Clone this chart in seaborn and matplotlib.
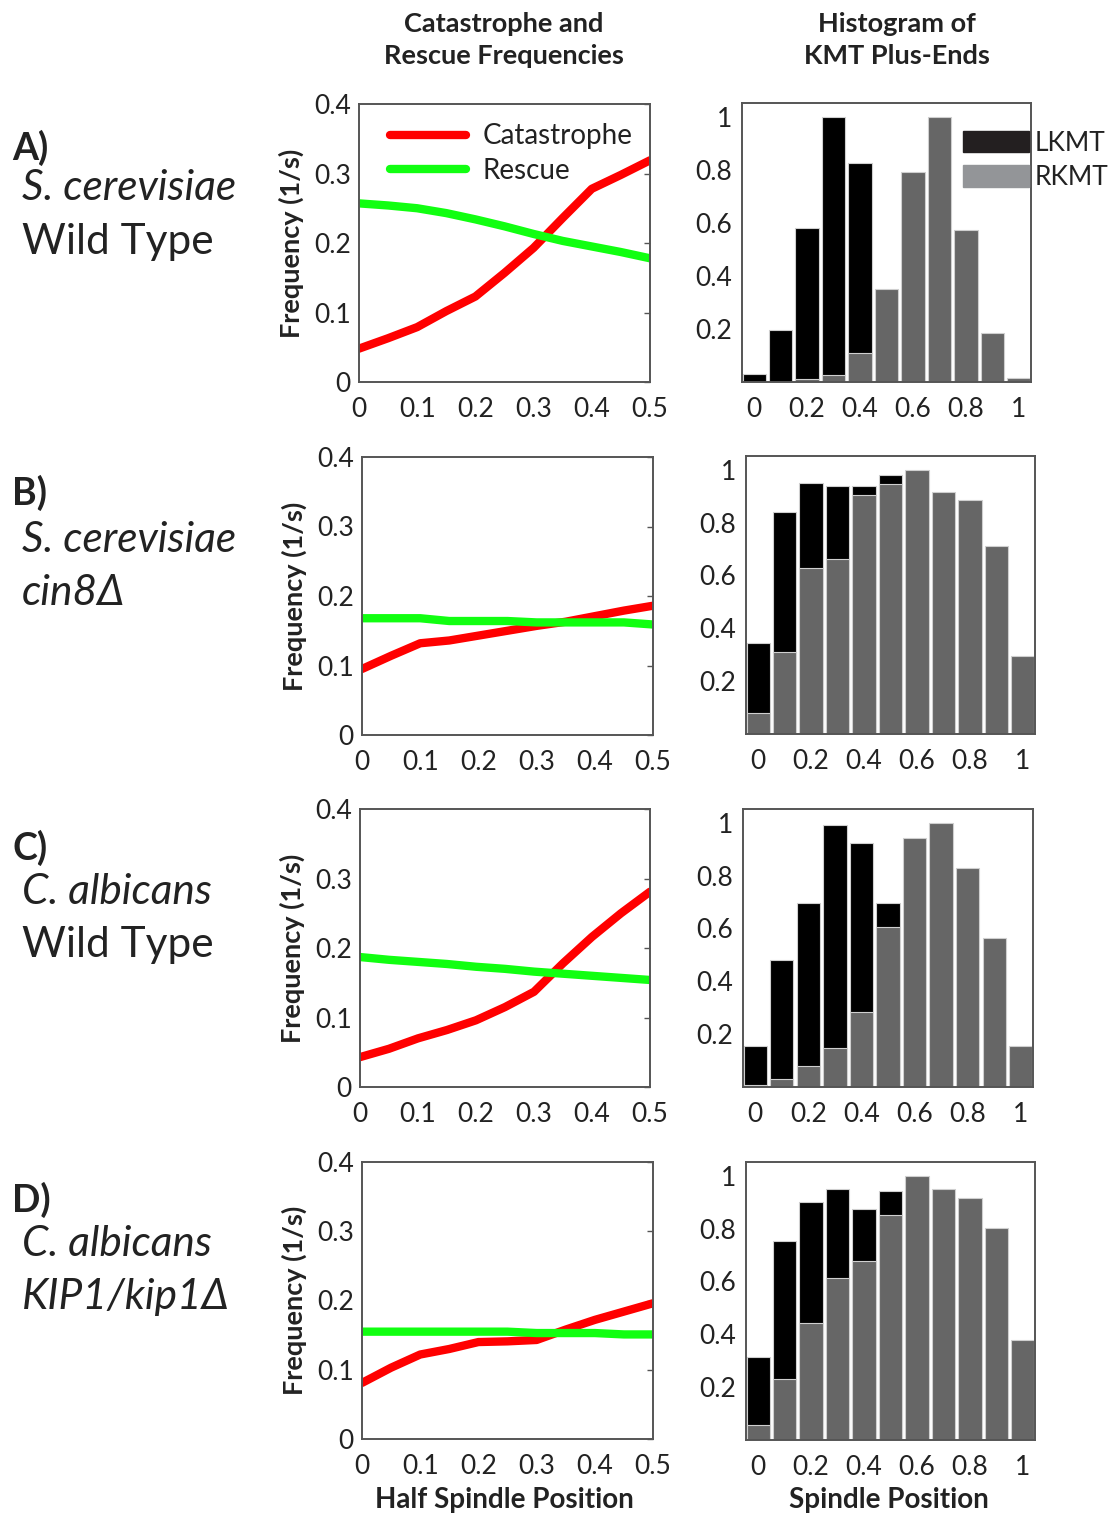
import seaborn as sns
import matplotlib.pyplot as plt
import matplotlib.patches as mpatches
import numpy as np

sns.set_style("white")
plt.rcParams['font.family'] = ['Lato', 'DejaVu Sans']

W, H = 1110, 1515

# half spindle position for the frequency curves
half_pos = [0, 0.05, 0.1, 0.15, 0.2, 0.25, 0.3, 0.35, 0.4, 0.45, 0.5]

cat_a = [0.048, 0.063, 0.079, 0.102, 0.123, 0.157, 0.193, 0.236, 0.278, 0.298, 0.319]
resc_a = [0.257, 0.254, 0.250, 0.243, 0.234, 0.224, 0.213, 0.203, 0.195, 0.187, 0.178]

cat_b = [0.095, 0.114, 0.132, 0.136, 0.143, 0.150, 0.157, 0.163, 0.171, 0.179, 0.186]
resc_b = [0.168, 0.168, 0.168, 0.164, 0.164, 0.164, 0.162, 0.162, 0.162, 0.162, 0.159]

cat_c = [0.043, 0.055, 0.070, 0.082, 0.096, 0.115, 0.137, 0.178, 0.216, 0.250, 0.281]
resc_c = [0.187, 0.183, 0.180, 0.177, 0.173, 0.170, 0.166, 0.163, 0.160, 0.157, 0.154]

cat_d = [0.081, 0.103, 0.122, 0.130, 0.140, 0.141, 0.143, 0.158, 0.172, 0.184, 0.196]
resc_d = [0.155, 0.155, 0.155, 0.155, 0.155, 0.155, 0.153, 0.153, 0.153, 0.151, 0.151]

# histogram of KMT plus-ends (normalised)
bins = [0, 0.1, 0.2, 0.3, 0.4, 0.5, 0.6, 0.7, 0.8, 0.9, 1.0]

lkmt_a = [0.03, 0.195, 0.58, 1.0, 0.824, 0, 0, 0, 0, 0, 0]
rkmt_a = [0.0, 0.0, 0.01, 0.025, 0.11, 0.352, 0.79, 1.0, 0.574, 0.183, 0.015]

lkmt_b = [0.346, 0.839, 0.951, 0.937, 0.938, 0.981, 0, 0, 0, 0, 0]
rkmt_b = [0.079, 0.312, 0.629, 0.663, 0.903, 0.946, 1.0, 0.916, 0.887, 0.712, 0.297]

lkmt_c = [0.154, 0.479, 0.696, 0.991, 0.922, 0.696, 0, 0, 0, 0, 0]
rkmt_c = [0.006, 0.029, 0.078, 0.148, 0.282, 0.606, 0.944, 1.0, 0.828, 0.565, 0.154]

lkmt_d = [0.315, 0.754, 0.901, 0.95, 0.873, 0.943, 0, 0, 0, 0, 0]
rkmt_d = [0.055, 0.231, 0.442, 0.613, 0.676, 0.853, 1.0, 0.95, 0.915, 0.803, 0.379]

panel_letters = ["A)", "B)", "C)", "D)"]
species = ["S. cerevisiae", "S. cerevisiae", "C. albicans", "C. albicans"]
strains = ["Wild Type", "cin8\u0394", "Wild Type", "KIP1/kip1\u0394"]
strain_italic = [False, True, False, True]

cats = [cat_a, cat_b, cat_c, cat_d]
rescs = [resc_a, resc_b, resc_c, resc_d]
lkmts = [lkmt_a, lkmt_b, lkmt_c, lkmt_d]
rkmts = [rkmt_a, rkmt_b, rkmt_c, rkmt_d]

# axes boxes in pixels: left, right, top, bottom
line_boxes = [(359, 650, 104, 382), (362, 653, 457, 735),
              (360, 650, 809, 1087), (362, 653, 1162, 1439)]
hist_boxes = [(742, 1031, 103, 382), (746, 1035, 456, 734),
              (743, 1033, 809, 1087), (746, 1035, 1162, 1440)]
label_rows = [(148, 188, 242), (493, 540, 593), (848, 892, 945), (1200, 1244, 1297)]

TXT = '#222222'
SPINE = '#555555'
FS = 19
FS_B = 19.5


def add_ax(fig, box):
    l, r, t, b = box
    return fig.add_axes([l / W, 1 - b / H, (r - l) / W, (b - t) / H])


def style_spines(ax):
    for s in ax.spines.values():
        s.set_visible(True)
        s.set_color(SPINE)
        s.set_linewidth(1.4)


fig = plt.figure(figsize=(W / 100, H / 100), dpi=100)

for i in range(4):
    # frequency curves
    ax = add_ax(fig, line_boxes[i])
    sns.lineplot(x=half_pos, y=cats[i], color='#ff0000', lw=6, ax=ax,
                 label='Catastrophe')
    sns.lineplot(x=half_pos, y=rescs[i], color='#11ff11', lw=6, ax=ax,
                 label='Rescue')
    ax.set_xlim(0, 0.5)
    ax.set_ylim(0, 0.4)
    ax.set_xticks([0, 0.1, 0.2, 0.3, 0.4, 0.5])
    ax.set_xticklabels(['0', '0.1', '0.2', '0.3', '0.4', '0.5'])
    ax.set_yticks([0, 0.1, 0.2, 0.3, 0.4])
    ax.set_yticklabels(['0', '0.1', '0.2', '0.3', '0.4'])
    ax.tick_params(axis='both', direction='in', length=4, width=1,
                   color=SPINE, labelsize=FS, labelcolor=TXT,
                   right=True, top=False, left=False, bottom=False)
    ax.tick_params(axis='x', pad=11)
    ax.tick_params(axis='y', pad=6)
    ax.set_ylabel('Frequency (1/s)', fontsize=FS_B, fontweight='bold',
                  color=TXT, labelpad=7)
    style_spines(ax)
    if i == 0:
        ax.legend(loc='upper left', bbox_to_anchor=(0.105, 0.93),
                  frameon=False, fontsize=20, handlelength=2.75,
                  handletextpad=0.6, labelspacing=0.3, borderaxespad=0,
                  borderpad=0, labelcolor=TXT)
    else:
        ax.get_legend().remove()

    # histogram
    hx = add_ax(fig, hist_boxes[i])
    sns.barplot(x=bins, y=lkmts[i], native_scale=True, color='#000000',
                saturation=1, width=0.88, edgecolor='#cfcfcf', linewidth=0.8,
                ax=hx)
    sns.barplot(x=bins, y=rkmts[i], native_scale=True, color='#666666',
                saturation=1, width=0.88, edgecolor='#cfcfcf', linewidth=0.8,
                ax=hx)
    hx.set_xlim(-0.046, 1.046)
    hx.set_ylim(0, 1.052)
    hx.set_xticks([0, 0.2, 0.4, 0.6, 0.8, 1.0])
    hx.set_xticklabels(['0', '0.2', '0.4', '0.6', '0.8', '1'])
    hx.set_yticks([0.2, 0.4, 0.6, 0.8, 1.0])
    hx.set_yticklabels(['0.2', '0.4', '0.6', '0.8', '1'])
    hx.tick_params(axis='both', length=0, labelsize=FS, labelcolor=TXT)
    hx.tick_params(axis='x', pad=11)
    hx.tick_params(axis='y', pad=7)
    hx.set_xlabel('')
    hx.set_ylabel('')
    style_spines(hx)
    if i == 0:
        handles = [mpatches.Patch(color='#231f20', label='LKMT'),
                   mpatches.Patch(color='#939598', label='RKMT')]
        hx.legend(handles=handles, loc='upper left',
                  bbox_to_anchor=(0.765, 0.9), frameon=False, fontsize=FS,
                  handlelength=2.5, handleheight=0.85, handletextpad=0.22,
                  labelspacing=0.35, borderaxespad=0, borderpad=0,
                  labelcolor=TXT)

    # row labels on the left
    y_let, y_sp, y_st = label_rows[i]
    fig.text(12 / W, 1 - y_let / H, panel_letters[i], fontsize=27,
             fontweight='bold', color=TXT, va='center', ha='left')
    fig.text(22 / W, 1 - y_sp / H, species[i], fontsize=30.5, style='italic',
             color=TXT, va='center', ha='left')
    fig.text(22 / W, 1 - y_st / H, strains[i], fontsize=30.5,
             style='italic' if strain_italic[i] else 'normal',
             color=TXT, va='center', ha='left')

# column headers and bottom labels
fig.text(504 / W, 1 - 40 / H, 'Catastrophe and\nRescue Frequencies',
         fontsize=FS_B, fontweight='bold', color=TXT, ha='center', va='center',
         linespacing=1.35)
fig.text(897 / W, 1 - 40 / H, 'Histogram of\nKMT Plus-Ends',
         fontsize=FS_B, fontweight='bold', color=TXT, ha='center', va='center',
         linespacing=1.35)
fig.text(504 / W, 1 - 1500 / H, 'Half Spindle Position', fontsize=20,
         fontweight='bold', color=TXT, ha='center', va='center')
fig.text(889 / W, 1 - 1500 / H, 'Spindle Position', fontsize=20,
         fontweight='bold', color=TXT, ha='center', va='center')

fig.savefig('out.png', dpi=100)
